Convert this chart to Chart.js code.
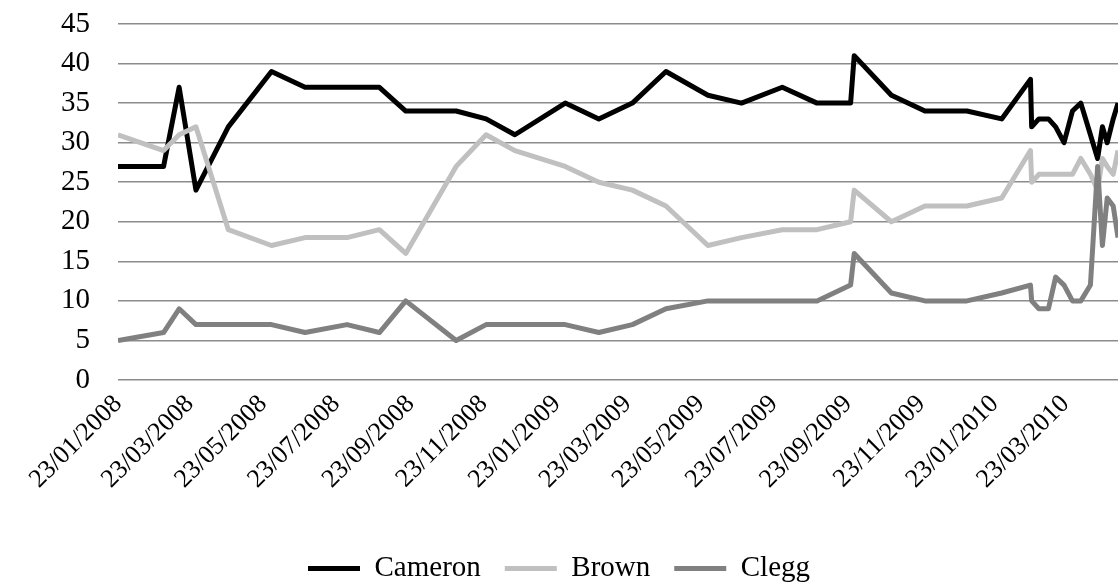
<!DOCTYPE html>
<html>
<head>
<meta charset="utf-8">
<script src="https://cdn.jsdelivr.net/npm/chart.js@4.4.1/dist/chart.umd.min.js"></script>
<style>
  html, body { margin: 0; padding: 0; background: #fff; }
</style>
</head>
<body>
<canvas id="polls" width="1118" height="588"></canvas>
<script>
// ── POLL DATA ───────────────────────────────────────────────────────
const pollDates = [
  '23/01/2008', '01/03/2008', '14/03/2008', '28/03/2008', '24/04/2008',
  '30/05/2008', '27/06/2008', '01/08/2008', '28/08/2008', '19/09/2008',
  '31/10/2008', '25/11/2008', '19/12/2008', '30/01/2009', '27/02/2009',
  '27/03/2009', '24/04/2009', '29/05/2009', '26/06/2009', '30/07/2009',
  '28/08/2009', '25/09/2009', '28/09/2009', '29/10/2009', '26/11/2009',
  '31/12/2009', '29/01/2010', '22/02/2010', '23/02/2010', '01/03/2010',
  '09/03/2010', '15/03/2010', '22/03/2010', '29/03/2010', '05/04/2010',
  '13/04/2010', '19/04/2010', '23/04/2010', '27/04/2010', '02/05/2010',
  '06/05/2010'
];
const cameron = [27, 27, 37, 24, 32, 39, 37, 37, 37, 34, 34, 33, 31, 35, 33,
  35, 39, 36, 35, 37, 35, 35, 41, 36, 34, 34, 33, 38, 32, 33,
  33, 32, 30, 34, 35, 31, 28, 32, 30, 33, 35];
const brown = [31, 29, 31, 32, 19, 17, 18, 18, 19, 16, 27, 31, 29, 27, 25,
  24, 22, 17, 18, 19, 19, 20, 24, 20, 22, 22, 23, 29, 25, 26,
  26, 26, 26, 26, 28, 26, 24, 28, 27, 26, 29];
const clegg = [5, 6, 9, 7, 7, 7, 6, 7, 6, 10, 5, 7, 7, 7, 6,
  7, 9, 10, 10, 10, 10, 12, 16, 11, 10, 10, 11, 12, 10, 9,
  9, 13, 12, 10, 10, 12, 27, 17, 23, 22, 18];

const tickDates = [
  '23/01/2008', '23/03/2008', '23/05/2008', '23/07/2008', '23/09/2008', '23/11/2008',
  '23/01/2009', '23/03/2009', '23/05/2009', '23/07/2009', '23/09/2009', '23/11/2009',
  '23/01/2010', '23/03/2010'
];
const axisStart = '23/01/2008';
const axisEnd = '06/05/2010';

// dd/mm/yyyy <-> day number
function dayNum(s) {
  const [d, m, y] = s.split('/').map(Number);
  return Date.UTC(y, m - 1, d) / 86400000;
}
function fmtDay(v) {
  const dt = new Date(Math.round(v) * 86400000);
  const p = n => String(n).padStart(2, '0');
  return `${p(dt.getUTCDate())}/${p(dt.getUTCMonth() + 1)}/${dt.getUTCFullYear()}`;
}

const serif = "'Liberation Serif', 'Times New Roman', serif";

function series(label, values, color, order) {
  return {
    label,
    data: pollDates.map((d, i) => ({ x: dayNum(d), y: values[i] })),
    borderColor: color,
    backgroundColor: color,
    borderWidth: 5,
    pointRadius: 0,
    tension: 0,
    borderJoinStyle: 'round',
    order
  };
}

new Chart(document.getElementById('polls'), {
  type: 'line',
  data: {
    datasets: [
      series('Cameron', cameron, '#000000', 3),
      series('Brown', brown, '#c0c0c0', 2),
      series('Clegg', clegg, '#808080', 1)
    ]
  },
  options: {
    responsive: false,
    animation: false,
    devicePixelRatio: 1,
    layout: { padding: { top: 24, right: 0, bottom: 0, left: 0 } },
    scales: {
      x: {
        type: 'linear',
        min: dayNum(axisStart),
        max: dayNum(axisEnd),
        grid: { display: false },
        border: { display: false },
        afterBuildTicks: s => { s.ticks = tickDates.map(d => ({ value: dayNum(d) })); },
        afterFit: s => { s.height = 150; },
        ticks: {
          autoSkip: false,
          minRotation: 45,
          maxRotation: 45,
          padding: 1,
          color: '#000',
          font: { family: serif, size: 26 },
          callback: v => fmtDay(v)
        }
      },
      y: {
        min: 0,
        max: 45,
        afterFit: s => { s.width = 118; },
        grid: { color: '#8c8c8c', lineWidth: 1.5, drawTicks: true, tickLength: 28, tickColor: 'rgba(0,0,0,0)' },
        border: { display: false },
        ticks: { stepSize: 5, autoSkip: false, padding: 0, color: '#000', font: { family: serif, size: 29 } }
      }
    },
    plugins: {
      legend: {
        position: 'bottom',
        reverse: true,
        maxHeight: 58,
        labels: {
          color: '#000',
          font: { family: serif, size: 29 },
          usePointStyle: true,
          pointStyle: 'line',
          pointStyleWidth: 52,
          padding: 24
        }
      },
      tooltip: { enabled: false }
    }
  }
});
</script>
</body>
</html>
